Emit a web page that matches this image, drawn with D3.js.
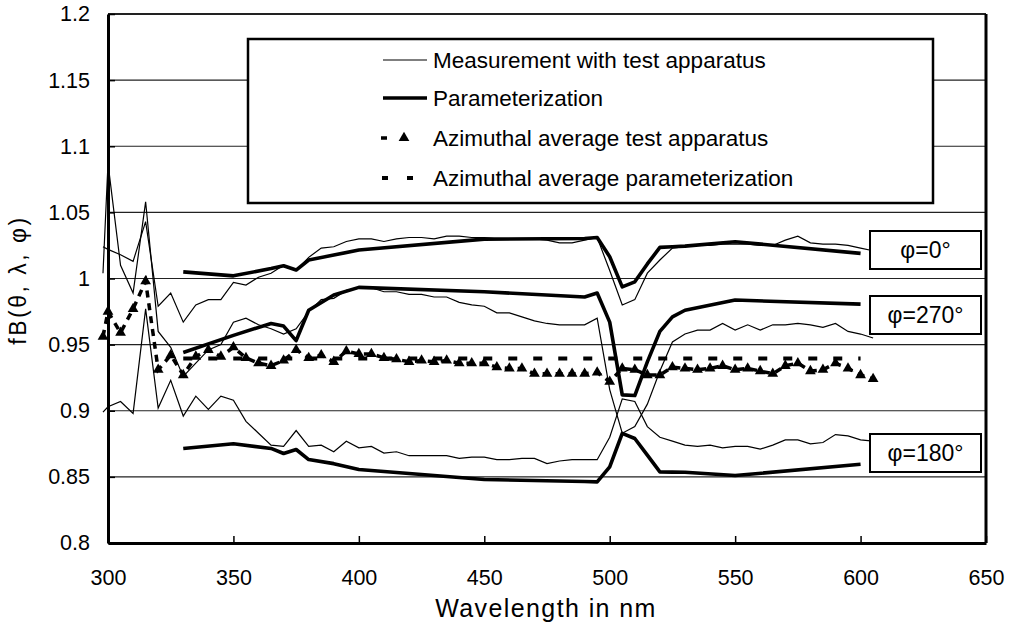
<!DOCTYPE html>
<html><head><meta charset="utf-8">
<script src="https://cdn.jsdelivr.net/npm/d3@7"></script>
<style>
body{margin:0;background:#fff}
text{font-family:"Liberation Sans",Arial,sans-serif;fill:#000}
</style>
</head><body>
<svg id="c" width="1009" height="628"></svg>
<script>
// ---- data ----
const measWl = [298,300,305,310,315,320,325,330,335,340,345,350,355,360,365,370,375,380,385,390,395,400,405,410,415,420,425,430,435,440,445,450,455,460,465,470,475,480,485,490,495,500,505,510,515,520,525,530,535,540,545,550,555,560,565,570,575,580,585,590,595,600,605];
const meas0 = [1.024,1.022,1.018,1.013,1.043,0.979,0.989,0.967,0.980,0.984,0.984,0.997,0.995,1.001,1.004,1.010,1.006,1.016,1.023,1.024,1.028,1.030,1.030,1.028,1.030,1.031,1.031,1.030,1.032,1.032,1.031,1.031,1.030,1.030,1.030,1.030,1.029,1.027,1.027,1.029,1.031,1.006,0.980,0.984,1.004,1.014,1.023,1.024,1.025,1.025,1.026,1.026,1.026,1.025,1.025,1.029,1.032,1.027,1.026,1.026,1.025,1.023,1.021];
const meas270 = [1.004,1.087,1.010,0.989,1.058,0.960,0.948,0.926,0.936,0.946,0.950,0.967,0.970,0.965,0.962,0.958,0.962,0.975,0.984,0.985,0.991,0.993,0.993,0.990,0.990,0.988,0.988,0.986,0.986,0.982,0.980,0.979,0.974,0.974,0.971,0.968,0.966,0.965,0.965,0.965,0.970,0.916,0.883,0.888,0.905,0.930,0.952,0.958,0.961,0.961,0.966,0.961,0.965,0.961,0.965,0.965,0.966,0.965,0.963,0.966,0.960,0.958,0.955];
const meas180 = [0.899,0.903,0.907,0.898,0.977,0.902,0.923,0.896,0.911,0.901,0.911,0.908,0.892,0.883,0.874,0.873,0.885,0.873,0.874,0.869,0.877,0.872,0.873,0.868,0.869,0.866,0.866,0.866,0.866,0.864,0.865,0.865,0.863,0.863,0.864,0.864,0.860,0.862,0.863,0.863,0.863,0.880,0.909,0.907,0.888,0.880,0.877,0.874,0.873,0.874,0.872,0.873,0.873,0.871,0.874,0.878,0.878,0.875,0.876,0.882,0.881,0.878,0.877];
const measAvg = [0.956,0.975,0.959,0.977,0.998,0.931,0.942,0.927,0.941,0.946,0.941,0.948,0.940,0.936,0.934,0.938,0.946,0.940,0.942,0.937,0.945,0.943,0.943,0.940,0.939,0.937,0.938,0.937,0.938,0.936,0.936,0.936,0.933,0.932,0.932,0.928,0.928,0.928,0.928,0.928,0.929,0.922,0.932,0.931,0.927,0.927,0.933,0.932,0.931,0.932,0.934,0.931,0.932,0.930,0.928,0.934,0.936,0.930,0.931,0.936,0.932,0.927,0.924];

const parWl = [330,350,365,370,375,380,390,400,450,490,495,500,505,510,515,520,525,530,550,600];
const par0 = [1.005,1.002,1.0075,1.0096,1.0064,1.014,1.0177,1.0215,1.0298,1.0302,1.031,1.0164,0.9937,0.9975,1.011,1.0235,1.024,1.0245,1.0278,1.019];
const par270 = [0.944,0.957,0.966,0.964,0.953,0.976,0.9875,0.9933,0.990,0.986,0.989,0.967,0.912,0.9115,0.937,0.960,0.971,0.976,0.9837,0.9806];
const par180 = [0.8715,0.875,0.8715,0.8677,0.8707,0.8631,0.860,0.8556,0.848,0.8465,0.8462,0.8576,0.8829,0.879,0.8664,0.8538,0.8536,0.8535,0.851,0.8596];
const parAvgWl = [330,600];
const parAvg = [0.9395,0.9395];

const xTicks = [300,350,400,450,500,550,600,650];
const yTicks = [0.8,0.85,0.9,0.95,1,1.05,1.1,1.15,1.2];
const yTickLabels = ["0.8","0.85","0.9","0.95","1","1.05","1.1","1.15","1.2"];
const legendLabels = ["Measurement with test apparatus","Parameterization","Azimuthal average test apparatus","Azimuthal average parameterization"];
const curveLabels = ["φ=0°","φ=270°","φ=180°"];
const xTitle = "Wavelength in nm";
const yTitle = "fB(θ, λ, φ)";

// ---- layout ----
const L = 108, R = 986, T = 14, B = 543;
const svg = d3.select("#c");
const x = d3.scaleLinear().domain([300,650]).range([L,R]);
const y = d3.scaleLinear().domain([0.8,1.2]).range([B,T]);

// gridlines
svg.append("g").selectAll("line").data(yTicks.slice(1,-1)).join("line")
  .attr("x1",L).attr("x2",R).attr("y1",d=>y(d)).attr("y2",d=>y(d))
  .attr("stroke","#222").attr("stroke-width",1.2);

// frame top/right
svg.append("line").attr("x1",L).attr("x2",R).attr("y1",y(1.2)).attr("y2",y(1.2)).attr("stroke","#222").attr("stroke-width",2);
svg.append("line").attr("x1",R).attr("x2",R).attr("y1",T).attr("y2",B).attr("stroke","#000").attr("stroke-width",3);

// legend box
const lg = svg.append("g");
lg.append("rect").attr("x",248).attr("y",39).attr("width",685).attr("height",164)
  .attr("fill","#fff").attr("stroke","#000").attr("stroke-width",2.5);

// axes
const yAxis = d3.axisLeft(y).tickValues(yTicks).tickFormat((d,i)=>yTickLabels[i])
  .tickSizeInner(-7).tickSizeOuter(0).tickPadding(18);
const gy = svg.append("g").attr("transform",`translate(${L},0)`).call(yAxis);
const xAxis = d3.axisBottom(x).tickValues(xTicks).tickFormat(d3.format("d"))
  .tickSizeInner(-7).tickSizeOuter(0).tickPadding(27);
const gx = svg.append("g").attr("transform",`translate(0,${B})`).call(xAxis);
[gx,gy].forEach(g=>{
  g.select(".domain").attr("stroke","#000").attr("stroke-width",3);
  g.selectAll(".tick line").attr("stroke","#000").attr("stroke-width",1.5);
  g.selectAll("text").attr("font-size",21.5).attr("font-family","'Liberation Sans',Arial,sans-serif").attr("fill","#000");
});
gx.select(".tick line").remove();

// titles
svg.append("text").attr("x",546).attr("y",617).attr("text-anchor","middle")
  .attr("font-size",25).attr("letter-spacing",1.4).text(xTitle);
svg.append("text").attr("transform","translate(26,280) rotate(-90)").attr("text-anchor","middle")
  .attr("font-size",23).attr("letter-spacing",2.5).text(yTitle);

// series
const line = d3.line().x(d=>x(d[0])).y(d=>y(d[1]));
const zip = (a,b)=>a.map((v,i)=>[v,b[i]]);
const thin = {stroke:"#000","stroke-width":1.2,fill:"none"};
const thick = {stroke:"#000","stroke-width":3.6,fill:"none","stroke-linejoin":"round"};
function draw(data, st){ const p = svg.append("path").attr("d",line(data)); for(const k in st) p.attr(k,st[k]); return p; }

[meas0,meas270,meas180].forEach(s=>draw(zip(measWl,s),thin));
[par0,par270,par180].forEach(s=>draw(zip(parWl,s),thick));
draw(zip(parAvgWl,parAvg),{stroke:"#000","stroke-width":4,fill:"none","stroke-dasharray":"9,16"});
draw(zip(measWl,measAvg),{stroke:"#000","stroke-width":3.5,fill:"none","stroke-dasharray":"7,6"});
const tri = d3.symbol(d3.symbolTriangle).size(50);
svg.append("g").selectAll("path").data(zip(measWl,measAvg)).join("path")
  .attr("d",tri).attr("transform",d=>`translate(${x(d[0])},${y(d[1])})`).attr("fill","#000");

// legend entries
const rowsY = [60,98,138,178];
lg.raise();
lg.append("line").attr("x1",383).attr("x2",427).attr("y1",rowsY[0]).attr("y2",rowsY[0]).attr("stroke","#000").attr("stroke-width",1.2);
lg.append("line").attr("x1",383).attr("x2",427).attr("y1",rowsY[1]).attr("y2",rowsY[1]).attr("stroke","#000").attr("stroke-width",3.6);
lg.append("line").attr("x1",381).attr("x2",387).attr("y1",rowsY[2]).attr("y2",rowsY[2]).attr("stroke","#000").attr("stroke-width",3.5);
lg.append("path").attr("d",tri).attr("transform",`translate(404,${rowsY[2]})`).attr("fill","#000");
lg.append("line").attr("x1",382).attr("x2",413).attr("y1",rowsY[3]).attr("y2",rowsY[3]).attr("stroke","#000").attr("stroke-width",4).attr("stroke-dasharray","6,19");
lg.selectAll("text.l").data(legendLabels).join("text").attr("class","l")
  .attr("x",433).attr("y",(d,i)=>rowsY[i]).attr("dy","0.35em").attr("font-size",22.5).text(d=>d);

// curve labels
const boxY = [231,296,434];
const cb = svg.append("g").selectAll("g").data(curveLabels).join("g");
cb.append("rect").attr("x",870).attr("y",(d,i)=>boxY[i]).attr("width",111).attr("height",38)
  .attr("fill","#fff").attr("stroke","#000").attr("stroke-width",2);
cb.append("text").attr("x",925.5).attr("y",(d,i)=>boxY[i]+19).attr("dy","0.36em")
  .attr("text-anchor","middle").attr("font-size",23).text(d=>d);
</script>
</body></html>
